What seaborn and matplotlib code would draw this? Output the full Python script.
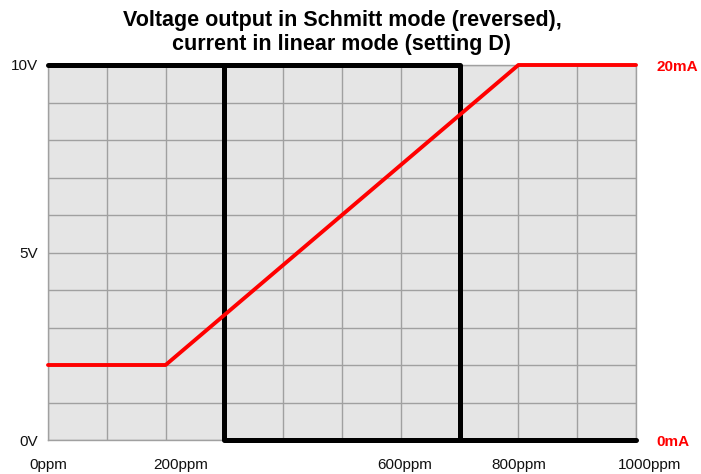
import matplotlib
matplotlib.use("Agg")
import matplotlib.pyplot as plt
import matplotlib.transforms as mtransforms
import numpy as np
import pandas as pd
import seaborn as sns

# voltage output (Schmitt, reversed) drawn as hysteresis loop, two branches
volt_seg = ["upper", "upper", "upper", "lower", "lower", "lower"]
volt_ppm = [0, 700, 700, 300, 300, 1000]
volt_v = [10, 10, 0, 10, 0, 0]

# current output in linear mode (setting D)
curr_ppm = [0, 200, 800, 1000]
curr_ma = [4, 4, 20, 20]

x_ticks = list(range(0, 1001, 100))
x_labels = ["0ppm", "", "200ppm", "", "", "", "600ppm", "", "800ppm", "", "1000ppm"]
y_ticks = list(range(0, 11))
y_labels = ["0V", "", "", "", "", "5V", "", "", "", "", "10V"]
ma_ticks = [0, 20]
ma_labels = ["0mA", "20mA"]

# the source nudges some x labels to the right (pixels)
label_shift = {"200ppm": 15, "600ppm": 4, "1000ppm": 14}

sns.set_style("whitegrid", {
    "axes.facecolor": "#e5e5e5",
    "grid.color": "#a0a0a0",
    "axes.edgecolor": "#a0a0a0",
    "text.color": "black",
    "xtick.color": "black",
    "ytick.color": "black",
})
plt.rcParams["font.family"] = ["Liberation Sans", "DejaVu Sans"]

volt_df = pd.DataFrame({"seg": volt_seg, "ppm": volt_ppm, "v": volt_v})
curr_df = pd.DataFrame({"ppm": curr_ppm, "ma": curr_ma})

fig = plt.figure(figsize=(7.01, 4.74), dpi=100)
ax = fig.add_axes([48 / 701, 1 - 440 / 474, 588 / 701, 375 / 474])

sns.lineplot(data=volt_df, x="ppm", y="v", units="seg", estimator=None, sort=False,
             color="black", linewidth=3.6, ax=ax, clip_on=False, zorder=3)
ax.set_xlim(0, 1000)
ax.set_ylim(0, 10)
ax.set_xticks(x_ticks)
ax.set_xticklabels(x_labels, fontsize=11, color="#111111")
ax.set_yticks(y_ticks)
ax.set_yticklabels(y_labels, fontsize=11, color="#111111")
ax.tick_params(length=0)
ax.tick_params(axis="x", pad=13)
ax.tick_params(axis="y", pad=7)
ax.grid(True, linewidth=1)
ax.set_xlabel("")
ax.set_ylabel("")
for s in ax.spines.values():
    s.set_linewidth(1)

for lbl in ax.get_xticklabels():
    dx = label_shift.get(lbl.get_text(), 0)
    if dx:
        lbl.set_transform(lbl.get_transform()
                          + mtransforms.ScaledTranslation(dx / 100, 0, fig.dpi_scale_trans))

ax2 = ax.twinx()
sns.lineplot(data=curr_df, x="ppm", y="ma", color="red", linewidth=2.8,
             ax=ax2, clip_on=False, zorder=4)
ax2.set_ylim(0, 20)
ax2.set_yticks(ma_ticks)
ax2.set_yticklabels(ma_labels, fontsize=11, fontweight="bold", color="red")
ax2.tick_params(length=0, pad=15)
ax2.grid(False)
ax2.set_ylabel("")
for s in ax2.spines.values():
    s.set_visible(False)

ax.set_title("Voltage output in Schmitt mode (reversed),\ncurrent in linear mode (setting D)",
             fontsize=15.5, fontweight="bold", pad=11, linespacing=1.15, color="black")

fig.savefig("out.png", dpi=100)
